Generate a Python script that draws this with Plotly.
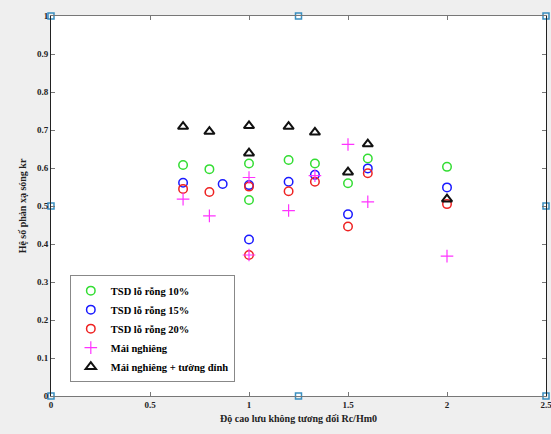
import plotly.graph_objects as go

# Data
x_g = [0.667, 0.8, 1.0, 1.0, 1.2, 1.333, 1.5, 1.6, 2.0]
y_g = [0.608, 0.597, 0.612, 0.516, 0.621, 0.612, 0.560, 0.625, 0.603]

x_b = [0.667, 0.867, 1.0, 1.0, 1.2, 1.333, 1.5, 1.6, 2.0]
y_b = [0.561, 0.558, 0.555, 0.412, 0.564, 0.582, 0.478, 0.599, 0.549]

x_r = [0.667, 0.8, 1.0, 1.0, 1.2, 1.333, 1.5, 1.6, 2.0]
y_r = [0.545, 0.537, 0.551, 0.371, 0.539, 0.564, 0.446, 0.586, 0.505]

x_m = [0.667, 0.8, 1.0, 1.0, 1.2, 1.333, 1.5, 1.6, 2.0]
y_m = [0.518, 0.474, 0.575, 0.371, 0.488, 0.580, 0.662, 0.511, 0.368]

x_k = [0.667, 0.8, 1.0, 1.0, 1.2, 1.333, 1.5, 1.6, 2.0]
y_k = [0.709, 0.696, 0.711, 0.639, 0.709, 0.694, 0.589, 0.663, 0.518]

names = ["TSD lỗ rỗng 10%", "TSD lỗ rỗng 15%", "TSD lỗ rỗng 20%",
         "Mái nghiêng", "Mái nghiêng + tường đỉnh"]

x_ticks = [0, 0.5, 1, 1.5, 2, 2.5]
x_labels = ["0", "0.5", "1", "1.5", "2", "2.5"]
y_ticks = [0, 0.1, 0.2, 0.3, 0.4, 0.5, 0.6, 0.7, 0.8, 0.9, 1]
y_labels = ["0", "0.1", "0.2", "0.3", "0.4", "0.5", "0.6", "0.7", "0.8", "0.9", "1"]

# edit-mode handles on the axes box
hx = [0, 1.25, 2.5, 0, 2.5, 0, 1.25, 2.5]
hy = [0, 0, 0, 0.5, 0.5, 1, 1, 1]

serif = "Liberation Serif"

fig = go.Figure()
fig.add_trace(go.Scatter(x=x_g, y=y_g, mode="markers", name=names[0],
                         marker=dict(symbol="circle-open", size=8.5, color="#33dd33", line=dict(width=1.5))))
fig.add_trace(go.Scatter(x=x_b, y=y_b, mode="markers", name=names[1],
                         marker=dict(symbol="circle-open", size=8.5, color="#1a1aff", line=dict(width=1.5))))
fig.add_trace(go.Scatter(x=x_r, y=y_r, mode="markers", name=names[2],
                         marker=dict(symbol="circle-open", size=8.5, color="#ee2222", line=dict(width=1.5))))
fig.add_trace(go.Scatter(x=x_m, y=y_m, mode="markers", name=names[3],
                         marker=dict(symbol="cross-thin-open", size=9, color="#ff33ff", line=dict(width=1.2))))
fig.add_trace(go.Scatter(x=x_k, y=y_k, mode="markers", name=names[4],
                         marker=dict(symbol="triangle-up-open", size=9, color="#111111", line=dict(width=2))))
fig.add_trace(go.Scatter(x=hx, y=hy, mode="markers", showlegend=False, cliponaxis=False,
                         hoverinfo="skip",
                         marker=dict(symbol="square-open", size=6, color="#3a8fc0", line=dict(width=1.5))))

fig.update_layout(
    width=551, height=434,
    margin=dict(l=51, r=5, t=16, b=38),
    paper_bgcolor="#efefef",
    plot_bgcolor="white",
    showlegend=True,
    legend=dict(x=0.038, y=0.318, xanchor="left", yanchor="top",
                bgcolor="white", bordercolor="#888888", borderwidth=1,
                font=dict(family=serif, size=10.5, color="black", weight="bold"),
                itemwidth=30, tracegroupgap=0),
    xaxis=dict(range=[0, 2.5], tickvals=x_ticks, ticktext=x_labels, automargin=False,
               ticklabeloverflow="allow",
               showgrid=False, zeroline=False, showline=True, linecolor="#777777",
               linewidth=1, mirror="ticks", ticks="inside", ticklen=4,
               tickcolor="#777777",
               tickfont=dict(family=serif, size=9, color="#222222", weight="bold"),
               title=dict(text="Độ cao lưu không tương đối Rc/Hm0", standoff=6,
                          font=dict(family=serif, size=10, color="#222222", weight="bold"))),
    yaxis=dict(range=[0, 1], tickvals=y_ticks, ticktext=y_labels, automargin=False,
               ticklabeloverflow="allow",
               showgrid=False, zeroline=False, showline=True, linecolor="#222222",
               linewidth=1, mirror="ticks", ticks="inside", ticklen=4,
               tickcolor="#777777",
               tickfont=dict(family=serif, size=9, color="#222222", weight="bold"),
               title=dict(text="Hệ số phản xạ sóng kr", standoff=8,
                          font=dict(family=serif, size=10, color="#222222", weight="bold"))),
)

fig.write_html("out.html", config={"displayModeBar": False},
               post_script="document.body.style.margin='0';document.body.style.overflow='hidden';")
